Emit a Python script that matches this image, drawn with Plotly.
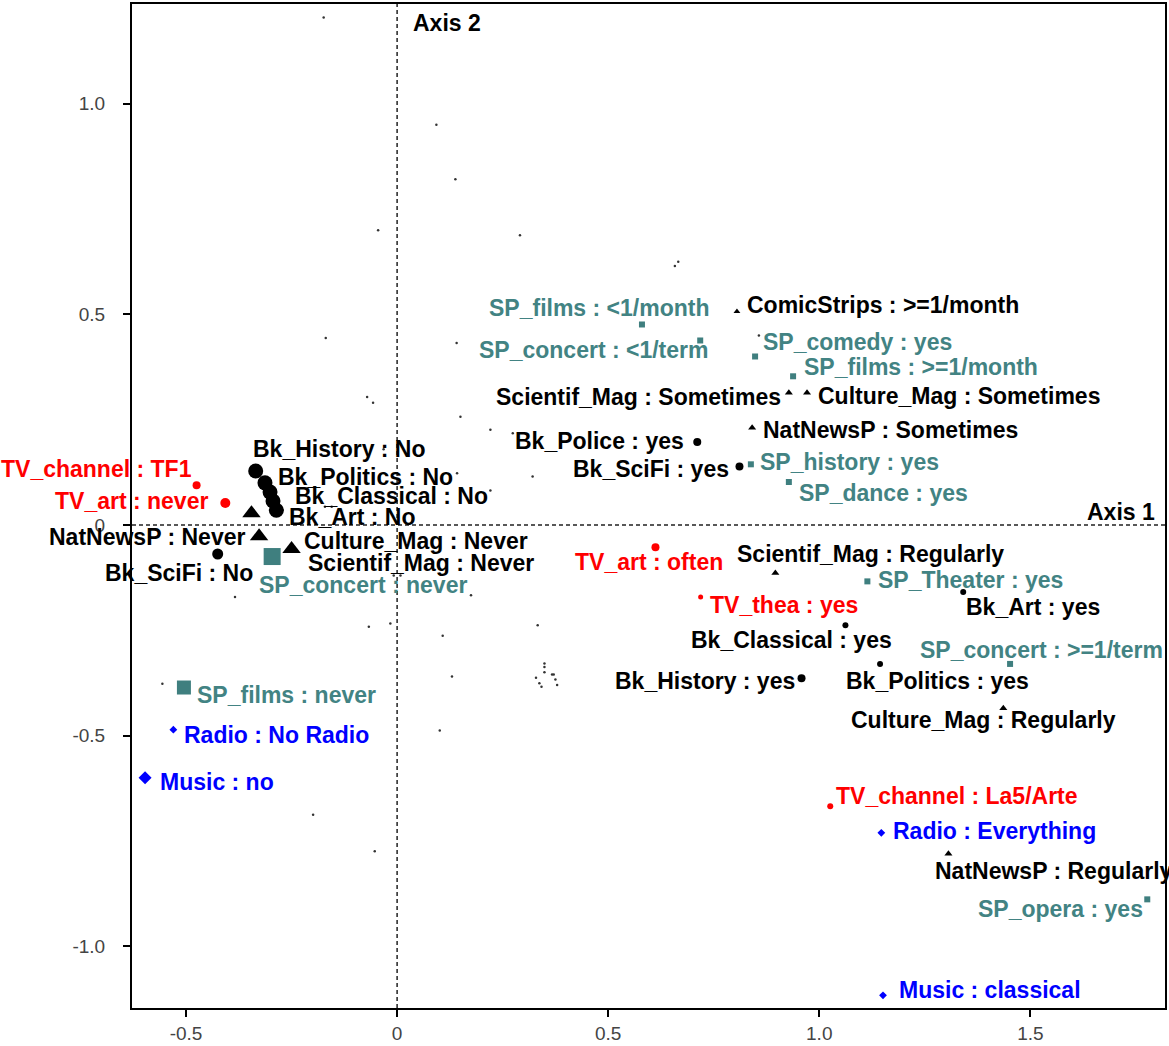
import plotly.graph_objects as go

# ---------------------------------------------------------------
# Categories projected on the first factorial plane (Axis 1, Axis 2)
# ---------------------------------------------------------------

# Books read (black circles)
bk_labels = ["Bk_History : No", "Bk_Politics : No", "Bk_Classical : No", "Bk_Police : No",
             "Bk_Art : No", "Bk_SciFi : No", "Bk_Police : yes", "Bk_SciFi : yes",
             "Bk_Art : yes", "Bk_Classical : yes", "Bk_History : yes", "Bk_Politics : yes"]
bk_x = [-0.335, -0.313, -0.301, -0.294, -0.286, -0.425, 0.711, 0.811, 1.341, 1.062, 0.958, 1.144]
bk_y = [0.128, 0.100, 0.078, 0.057, 0.035, -0.069, 0.197, 0.139, -0.159, -0.238, -0.364, -0.330]

# Press / magazines (black triangles)
mag_labels = ["Scientif_Mag : Never", "NatNewsP : Never", "Culture_Mag : Never",
              "ComicStrips : >=1/month", "Scientif_Mag : Sometimes", "Culture_Mag : Sometimes",
              "NatNewsP : Sometimes", "Scientif_Mag : Regularly", "Culture_Mag : Regularly",
              "NatNewsP : Regularly"]
mag_x = [-0.345, -0.327, -0.250, 0.805, 0.928, 0.971, 0.841, 0.896, 1.436, 1.306]
mag_y = [0.028, -0.027, -0.057, 0.507, 0.314, 0.314, 0.231, -0.114, -0.435, -0.781]

# Shows attended (teal squares)
sp_labels = ["SP_films : <1/month", "SP_concert : <1/term", "SP_comedy : yes",
             "SP_films : >=1/month", "SP_history : yes", "SP_dance : yes",
             "SP_Theater : yes", "SP_concert : >=1/term", "SP_opera : yes",
             "SP_concert : never", "SP_films : never"]
sp_x = [0.580, 0.718, 0.848, 0.938, 0.838, 0.928, 1.114, 1.452, 1.777, -0.296, -0.505]
sp_y = [0.476, 0.438, 0.400, 0.353, 0.144, 0.102, -0.134, -0.330, -0.889, -0.075, -0.386]

# Television (red)
tv_labels = ["TV_channel : TF1", "TV_art : never", "TV_art : often", "TV_thea : yes",
             "TV_channel : La5/Arte"]
tv_x = [-0.475, -0.407, 0.612, 0.719, 1.026]
tv_y = [0.094, 0.052, -0.053, -0.171, -0.668]

# Radio and music (blue)
audio_labels = ["Radio : No Radio", "Music : no", "Radio : Everything", "Music : classical"]
audio_x = [-0.530, -0.597, 1.147, 1.151]
audio_y = [-0.486, -0.600, -0.731, -1.117]

# Individuals (small dots)
ind_x = [-0.174, 0.093, 0.138, -0.045, 0.291, 0.666, 0.658, -0.169, 0.141, -0.071,
         -0.057, 0.150, 0.221, 0.274, 0.059, -0.032, 0.142, 0.321, 0.221, -0.171,
         -0.155, -0.008, 0.008, -0.384, 0.175, -0.067, -0.016, 0.108, 0.333, 0.130,
         0.349, 0.349, 0.349, 0.367, 0.371, 0.329, 0.337, 0.342, 0.375, 0.379,
         -0.556, 0.101, -0.199, -0.053, 0.857]
ind_y = [1.205, 0.950, 0.821, 0.700, 0.688, 0.625, 0.615, 0.444, 0.432, 0.304,
         0.290, 0.257, 0.226, 0.218, 0.184, 0.180, 0.123, 0.115, 0.082, 0.043,
         0.043, -0.120, -0.120, -0.171, -0.167, -0.242, -0.234, -0.263, -0.238, -0.360,
         -0.329, -0.337, -0.350, -0.355, -0.355, -0.363, -0.376, -0.384, -0.367, -0.380,
         -0.377, -0.488, -0.688, -0.775, 0.450]

# ---------------------------------------------------------------
# Styling
# ---------------------------------------------------------------
FONT = "Liberation Sans, Arial, sans-serif"
LABEL_SIZE = 23
BLACK = "#000000"
TEAL = "#3f7f7f"
TEAL_TEXT = "#428383"
RED = "#ff0000"
BLUE = "#0000ff"

# marker size per category (default 6)
MARKER_SIZE = {
    "Bk_History : No": 15, "Bk_Politics : No": 15, "Bk_Classical : No": 15,
    "Bk_Police : No": 15, "Bk_Art : No": 15, "Bk_SciFi : No": 11,
    "Bk_Police : yes": 8, "Bk_SciFi : yes": 8, "Bk_History : yes": 8,
    "Scientif_Mag : Never": 16, "NatNewsP : Never": 16, "Culture_Mag : Never": 16,
    "ComicStrips : >=1/month": 6, "Scientif_Mag : Sometimes": 7,
    "Culture_Mag : Sometimes": 7, "NatNewsP : Sometimes": 7,
    "Scientif_Mag : Regularly": 7, "Culture_Mag : Regularly": 7, "NatNewsP : Regularly": 7,
    "SP_concert : never": 17, "SP_films : never": 14,
    "TV_channel : TF1": 8, "TV_art : never": 10, "TV_art : often": 8, "TV_thea : yes": 5,
    "Music : no": 10, "Radio : No Radio": 6,
}

# label placement: (anchor side, x offset px, y offset px) relative to the point
LABEL_POS = {
    "Bk_History : No": ("left", -4, 22), "Bk_Politics : No": ("left", 12, 6),
    "Bk_Classical : No": ("left", 24, -4), "Bk_Art : No": ("left", 12, -7),
    "Bk_SciFi : No": ("left", -114, -19), "Bk_Police : yes": ("right", -12, 1),
    "Bk_SciFi : yes": ("right", -9, -3), "Bk_Art : yes": ("left", 2, -15),
    "Bk_Classical : yes": ("left", -155, -15), "Bk_History : yes": ("right", -6, -3),
    "Bk_Politics : yes": ("left", -35, -17),
    "Scientif_Mag : Never": ("left", 56, -50), "NatNewsP : Never": ("right", -13, -1),
    "Culture_Mag : Never": ("left", 11, 8), "ComicStrips : >=1/month": ("left", 9, 6),
    "Scientif_Mag : Sometimes": ("right", -7, -4), "Culture_Mag : Sometimes": ("left", 10, -3),
    "NatNewsP : Sometimes": ("left", 10, -2), "Scientif_Mag : Regularly": ("left", -39, 19),
    "Culture_Mag : Regularly": ("left", -153, -12), "NatNewsP : Regularly": ("left", -14, -17),
    "SP_films : <1/month": ("left", -154, 16), "SP_concert : <1/term": ("left", -222, -10),
    "SP_comedy : yes": ("left", 7, 14), "SP_films : >=1/month": ("left", 10, 9),
    "SP_history : yes": ("left", 8, 2), "SP_dance : yes": ("left", 9, -11),
    "SP_Theater : yes": ("left", 10, 1), "SP_concert : >=1/term": ("left", -91, 14),
    "SP_opera : yes": ("right", -3, -10), "SP_concert : never": ("left", -14, -28),
    "SP_films : never": ("left", 12, -7),
    "TV_channel : TF1": ("right", -4, 16), "TV_art : never": ("right", -16, 2),
    "TV_art : often": ("left", -81, -15), "TV_thea : yes": ("left", 8, -8),
    "TV_channel : La5/Arte": ("left", 5, 10),
    "Radio : No Radio": ("left", 10, -5), "Music : no": ("left", 14, -4),
    "Radio : Everything": ("left", 11, 2), "Music : classical": ("left", 15, 5),
}

groups = [
    (bk_labels, bk_x, bk_y, "circle", BLACK, BLACK),
    (mag_labels, mag_x, mag_y, "triangle-up", BLACK, BLACK),
    (sp_labels, sp_x, sp_y, "square", TEAL, TEAL_TEXT),
    (tv_labels, tv_x, tv_y, "circle", RED, RED),
    (audio_labels, audio_x, audio_y, "diamond", BLUE, BLUE),
]

fig = go.Figure()

# individuals first so categories sit above them
fig.add_trace(go.Scatter(
    x=ind_x, y=ind_y, mode="markers",
    marker=dict(size=2.5, color="#333333", opacity=1, line=dict(width=0)),
    hoverinfo="skip", showlegend=False,
))

annotations = []
for labels, xs, ys, symbol, mcolor, tcolor in groups:
    fig.add_trace(go.Scatter(
        x=xs, y=ys, mode="markers", text=labels, hoverinfo="text",
        marker=dict(symbol=symbol, color=mcolor, opacity=1,
                    size=[MARKER_SIZE.get(l, 6) for l in labels],
                    line=dict(width=0)),
        showlegend=False,
    ))
    for lab, xv, yv in zip(labels, xs, ys):
        if lab not in LABEL_POS:
            continue
        side, dx, dy = LABEL_POS[lab]
        annotations.append(dict(
            x=xv, y=yv, xref="x", yref="y", text=lab, showarrow=False,
            xanchor=side, yanchor="middle", xshift=dx, yshift=dy,
            borderpad=0, font=dict(family=FONT, size=LABEL_SIZE, color=tcolor, weight="bold"),
        ))

# axis names
annotations.append(dict(x=0, y=1, xref="x", yref="y domain", text="Axis 2", showarrow=False,
                        xanchor="left", yanchor="middle", xshift=15, yshift=-19,
                        borderpad=0, font=dict(family=FONT, size=LABEL_SIZE, color=BLACK, weight="bold")))
annotations.append(dict(x=1, y=0, xref="x domain", yref="y", text="Axis 1", showarrow=False,
                        xanchor="right", yanchor="middle", xshift=-9, yshift=13,
                        borderpad=0, font=dict(family=FONT, size=LABEL_SIZE, color=BLACK, weight="bold")))

# dashed origin lines
dash_line = dict(color="#222222", width=1.5, dash="4px,3px")
shapes = [
    dict(type="line", xref="x", yref="y domain", x0=0, x1=0, y0=0, y1=1, line=dash_line, layer="below"),
    dict(type="line", xref="x domain", yref="y", x0=0, x1=1, y0=0, y1=0, line=dash_line, layer="below"),
]

tick_font = dict(family=FONT, size=19, color="#444444")
fig.update_layout(
    width=1169, height=1046,
    margin=dict(l=132, r=2, t=3, b=35),
    paper_bgcolor="white", plot_bgcolor="white",
    annotations=annotations, shapes=shapes,
    xaxis=dict(range=[-0.628, 1.819], showgrid=False, zeroline=False,
               showline=True, mirror=True, linecolor=BLACK, linewidth=2,
               ticks="outside", ticklen=7, tickwidth=1.5, tickcolor=BLACK,
               tickvals=[-0.5, 0, 0.5, 1.0, 1.5],
               ticktext=["-0.5", "0", "0.5", "1.0", "1.5"], tickfont=tick_font),
    yaxis=dict(range=[-1.147, 1.237], showgrid=False, zeroline=False,
               showline=True, mirror=True, linecolor=BLACK, linewidth=2,
               ticks="outside", ticklen=7, tickwidth=1.5, tickcolor=BLACK,
               tickvals=[-1.0, -0.5, 0, 0.5, 1.0],
               ticktext=["-1.0", "-0.5", "0", "0.5", "1.0"], tickfont=tick_font,
               ticklabelstandoff=14),
)

fig.write_html("out.html")
